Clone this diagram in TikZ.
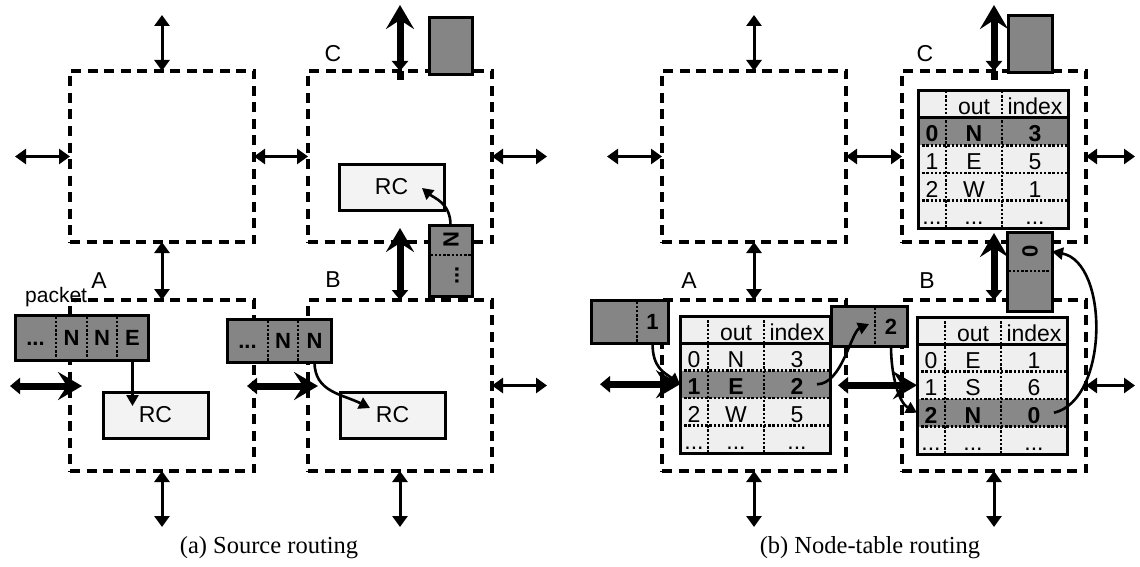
\documentclass[tikz,border=0pt]{standalone}
\usepackage{fontspec}
\setmainfont{Liberation Serif}
\newfontfamily\arial{Liberation Sans}
\usetikzlibrary{arrows.meta}
\definecolor{pktgray}{HTML}{858585}
\definecolor{rowgray}{HTML}{888888}
\definecolor{tabbg}{HTML}{EFEFEF}
\definecolor{rcfill}{HTML}{F3F3F3}
\tikzset{
  router/.style={draw, line width=3.4pt, dash pattern=on 10pt off 6.5pt, minimum width=184pt, minimum height=171pt, anchor=north west, inner sep=0pt, outer sep=0pt},
  biarrow/.style={line width=3pt, {Triangle[length=11pt,width=15pt]}-{Triangle[length=11pt,width=15pt]}},
  bigarrow/.style={line width=7pt, {Triangle[length=10pt,width=16pt]}-{Stealth[length=24pt,width=28pt,inset=9pt]}},
  curvelink/.style={line width=2.6pt, -{Triangle[length=11pt,width=12pt]}},
  pkt/.style={draw, line width=3pt, fill=pktgray, anchor=north west, inner sep=0pt, outer sep=0pt},
  ptxt/.style={font=\arial\bfseries\fontsize{22}{24}\selectfont, inner sep=0pt, text height=16pt, text depth=0pt},
  rcbox/.style={draw, line width=3pt, fill=rcfill, anchor=north west, inner sep=0pt, outer sep=0pt, minimum width=105pt, minimum height=46pt, font=\arial\fontsize{23}{24}\selectfont},
  lbl/.style={font=\arial\fontsize{23}{24}\selectfont, anchor=base, inner sep=0pt},
  ttxt/.style={font=\arial\fontsize{23}{24}\selectfont, anchor=base, inner sep=0pt},
  dotline/.style={line width=2.4pt, dash pattern=on 2.4pt off 1.8pt},
  capt/.style={font=\fontsize{24.5}{28}\selectfont, inner sep=0pt},
}
\newcommand\routetable[5]{%
\begin{scope}[shift={(#1,#2)}, name prefix=#3-]
  \fill[tabbg] (0,0) rectangle (150,137);
  \fill[rowgray] (0,{27+27.5*#4}) rectangle ++(150,27.5);
  \foreach \k in {1,2,3} \draw[dotline] (0,{27+27.5*\k}) -- (150,{27+27.5*\k});
  \draw[dotline] (28,0) -- (28,137);
  \draw[dotline] (84,0) -- (84,137);
  \draw[line width=3pt] (0,27) -- (150,27);
  \node[draw, line width=3pt, minimum width=150pt, minimum height=137pt, anchor=north west, inner sep=0pt, outer sep=0pt] (frame) at (0,0) {};
  \node[ttxt] (h2) at (56,24) {out};
  \node[ttxt] (h3) at (117,24) {index};
  \foreach \ri/\ro/\rn in {#5}{%
    \ifnum\ri=#4\relax\def\wt{\bfseries}\else\def\wt{}\fi
    \node[ttxt] (r\ri-c1) at (14,{51+27.5*\ri}) {\wt\ri};
    \node[ttxt] (r\ri-c2) at (56,{51+27.5*\ri}) {\wt\ro};
    \node[ttxt] (r\ri-c3) at (117,{51+27.5*\ri}) {\wt\rn};
    \coordinate (r\ri-w) at (0,{40.75+27.5*\ri});
    \coordinate (r\ri-e) at (137,{40.75+27.5*\ri});
  }
  \node[ttxt] (d1) at (14,133.5) {...};
  \node[ttxt] (d2) at (56,133.5) {...};
  \node[ttxt] (d3) at (117,133.5) {...};
\end{scope}}
\begin{document}
\begin{tikzpicture}[x=1pt,y=-1pt]
\fill[white] (0,0) rectangle (1140,567);
\useasboundingbox (0,0) rectangle (1140,567);

% ---------- routers ----------
\node[router] (LN) at (70,71) {};
\node[router] (LC) at (308,71) {};
\node[router] (LA) at (70,300) {};
\node[router] (LB) at (308,300) {};
\node[router] (RN) at (662,71) {};
\node[router] (RCr) at (902,71) {};
\node[router] (RA) at (662,300) {};
\node[router] (RB) at (902,300) {};

% ---------- tables ----------
\routetable{680}{316}{tA}{1}{0/N/3,1/E/2,2/W/5}
\routetable{917}{317}{tB}{2}{0/E/1,1/S/6,2/N/0}
\routetable{918}{91}{tC}{0}{0/N/3,1/E/5,2/W/1}

% ---------- free ends ----------
\coordinate (eLNt) at (162,15);
\coordinate (eLNl) at (15,156.5);
\coordinate (eLCr) at (547,156.5);
\coordinate (eLCt) at (400,5);
\coordinate (eLCb) at (400,80);
\coordinate (eLBc) at (400,228);
\coordinate (eLAb) at (162,527);
\coordinate (eLBb) at (400,527);
\coordinate (eLBr) at (547,385.5);
\coordinate (eLAl) at (10,386);
\coordinate (eLAin) at (82,386);
\coordinate (eLAo) at (247,386);
\coordinate (eLBin) at (318,386);
\coordinate (eRNt) at (754,15);
\coordinate (eRNl) at (607,156.5);
\coordinate (eRCr) at (1135,156.5);
\coordinate (eRCt) at (994,5);
\coordinate (eRCb) at (994,80);
\coordinate (eRBc) at (994,233);
\coordinate (eRAb) at (754,527);
\coordinate (eRBb) at (994,527);
\coordinate (eRBr) at (1135,385.5);
\coordinate (eRAl) at (600,384.25);
\coordinate (eRAo) at (838,385.25);

% ---------- thin arrows ----------
\draw[biarrow] (LN.north) -- (eLNt);
\draw[biarrow] (LN.west) -- (eLNl);
\draw[biarrow] (LN.east) -- (LC.west);
\draw[biarrow] (LC.east) -- (eLCr);
\draw[biarrow] (LN.south) -- (LA.north);
\draw[biarrow] (LA.south) -- (eLAb);
\draw[biarrow] (LB.south) -- (eLBb);
\draw[biarrow] (LB.east) -- (eLBr);
\draw[biarrow] (RN.north) -- (eRNt);
\draw[biarrow] (RN.west) -- (eRNl);
\draw[biarrow] (RN.east) -- (RCr.west);
\draw[biarrow] (RCr.east) -- (eRCr);
\draw[biarrow] (RN.south) -- (RA.north);
\draw[biarrow] (RA.south) -- (eRAb);
\draw[biarrow] (RB.south) -- (eRBb);
\draw[biarrow] (RB.east) -- (eRBr);

% ---------- thick arrows ----------
\draw[bigarrow] (eLAl) -- (eLAin);
\draw[bigarrow] (eLAo) -- (eLBin);
\draw[bigarrow] (LB.north) -- (eLBc);
\draw[line width=7pt] (LC.north) -- (eLCb);
\draw[bigarrow] (LC.north) -- (eLCt);
\draw[bigarrow] (eRAl) -- (tA-r1-w);
\draw[bigarrow] (eRAo) -- (tB-r1-w);
\draw[bigarrow] (RB.north) -- (eRBc);
\draw[line width=7pt] (RCr.north) -- (eRCb);
\draw[bigarrow] (RCr.north) -- (eRCt);

% ---------- RC boxes ----------
\node[rcbox] (rcA) at (103,392) {RC};
\node[rcbox] (rcB) at (340,392) {RC};
\node[rcbox] (rcC) at (339,164) {RC};

% ---------- packets (left) ----------
\node[pkt, minimum width=133pt, minimum height=45pt] (pA) at (15,315) {};
\draw[dotline] (56,316.5) -- (56,358.5);
\draw[dotline] (87,316.5) -- (87,358.5);
\draw[dotline] (117,316.5) -- (117,358.5);
\node[ptxt] (pA1) at (35.5,337.5) {...};
\node[ptxt] (pA2) at (71.5,337.5) {N};
\node[ptxt] (pA3) at (102,337.5) {N};
\node[ptxt] (pA4) at (132.5,337.5) {E};

\node[pkt, minimum width=104pt, minimum height=43pt] (pB) at (227,319) {};
\draw[dotline] (268,320.5) -- (268,360.5);
\draw[dotline] (298,320.5) -- (298,360.5);
\node[ptxt] (pB1) at (247.5,340.5) {...};
\node[ptxt] (pB2) at (283,340.5) {N};
\node[ptxt] (pB3) at (314.5,340.5) {N};

\node[pkt, minimum width=43pt, minimum height=71pt] (pV) at (429,225) {};
\draw[dotline] (430.5,255) -- (470.5,255);
\node[ptxt, rotate=90] (pV1) at (450.5,240) {N};
\node[ptxt, rotate=90] (pV2) at (450.5,275.5) {...};

\node[pkt, minimum width=43pt, minimum height=57pt] (pCt) at (429,18) {};

% ---------- packets (right) ----------
\node[pkt, minimum width=77pt, minimum height=43pt] (p1) at (591,300) {};
\draw[dotline] (637,301.5) -- (637,341.5);
\node[ptxt] (p1t) at (652.5,321.5) {1};

\node[pkt, minimum width=76pt, minimum height=40pt] (p2) at (831,306) {};
\draw[dotline] (875,307.5) -- (875,344.5);
\node[ptxt] (p2t) at (891,326) {2};

\node[pkt, minimum width=45pt, minimum height=79pt] (p0) at (1007,232) {};
\draw[dotline] (1008.5,271) -- (1050.5,271);
\node[ptxt, rotate=90] (p0t) at (1029.5,251.5) {0};

\node[pkt, minimum width=44pt, minimum height=57pt] (pRt) at (1008,16) {};

% ---------- curved connectors ----------
\coordinate (aEnd) at (132.5,406);
\coordinate (bEnd) at (370,408);
\coordinate (cEnd) at (422,188);
\coordinate (p2in) at (869,324);
\draw[curvelink] (pA.south -| pA4) -- (aEnd);
\draw[curvelink] (pB.south -| pB3) .. controls +(0,30) and +(-28,-14) .. (bEnd);
\draw[curvelink] (pV.north) .. controls +(0,-22) and +(12,10) .. (cEnd);
\draw[curvelink] (p1.south -| p1t) .. controls +(0,25) and +(-16,-12) .. (tA-r1-w);
\draw[curvelink] (tA-r1-e) .. controls +(25,0) and +(-18,8) .. (p2in);
\draw[curvelink] (p2.south -| p2t) .. controls +(0,30) and +(-18,-10) .. (tB-r2-w);
\draw[curvelink] (tB-r2-e) .. controls +(55,-13) and +(57,11) .. (p0.east |- p0t);

% ---------- labels ----------
\node[lbl] (labLA) at (99,288) {A};
\node[lbl] (labLB) at (333,287) {B};
\node[lbl] (labLC) at (333,62) {C};
\node[lbl, anchor=base west, font=\arial\fontsize{21}{24}\selectfont] (labPkt) at (25,302) {packet};
\node[lbl] (labRA) at (689,288) {A};
\node[lbl] (labRB) at (927,288) {B};
\node[lbl] (labRC) at (925,62) {C};

\node[capt] (capA) at (269,548) {(a) Source routing};
\node[capt] (capB) at (870,548) {(b) Node-table routing};
\end{tikzpicture}
\end{document}
